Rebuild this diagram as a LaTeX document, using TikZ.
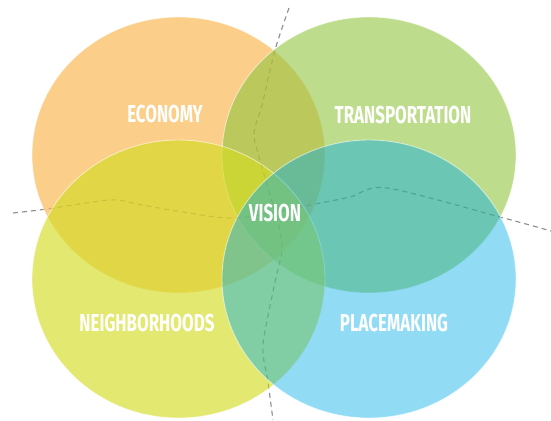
\documentclass[tikz,border=0pt]{standalone}
\usepackage{fontspec}
\newfontfamily\labelfont[FakeStretch=0.69]{Fira Sans}
\definecolor{econ}{RGB}{250,190,99}
\definecolor{trans}{RGB}{145,197,63}
\definecolor{neigh}{RGB}{212,220,35}
\definecolor{place}{RGB}{0,172,232}
\definecolor{guide}{RGB}{150,150,150}
\begin{document}
\begin{tikzpicture}[x=1pt,y=-1pt,
  petal/.style={draw=white,draw opacity=0.55,line width=0.9pt},
  guideline/.style={draw=guide,line width=1.1pt,dash pattern=on 5pt off 4pt},
  guidetop/.style={draw=black,draw opacity=0.06,line width=1.1pt,dash pattern=on 5pt off 4pt},
  caption/.style={text=white,font=\labelfont\bfseries\fontsize{24.5}{24.5}\selectfont,inner sep=0pt,anchor=center}]
\useasboundingbox (0,0) rectangle (551,420);
% guide lines running underneath the circles
\coordinate (vtop) at (289,8);
\coordinate (vbot) at (273,420);
\coordinate (hleft) at (13,213);
\coordinate (hright) at (551,231);
\draw[guideline] plot[smooth,tension=0.5] coordinates {(vtop) (275,50) (262,105) (254,133) (259,157) (268,188) (282,243) (275,282) (263,345) (268,382) (vbot)};
\draw[guideline] plot[smooth,tension=0.5] coordinates {(hleft) (47,209) (110,200) (137,204) (183,212) (237,218) (310,205) (350,197) (387,188) (500,217) (hright)};
% the four overlapping circles
\path[petal,fill=econ,fill opacity=0.75] (178.5,155) ellipse [x radius=146.5,y radius=138];
\path[petal,fill=trans,fill opacity=0.6] (369,155) ellipse [x radius=147,y radius=138];
\path[petal,fill=neigh,fill opacity=0.65] (178.5,279) ellipse [x radius=146.5,y radius=139];
\path[petal,fill=place,fill opacity=0.43] (369,279) ellipse [x radius=147,y radius=139];
% faint trace of the guide lines across the circles
\draw[guidetop] plot[smooth,tension=0.5] coordinates {(vtop) (275,50) (262,105) (254,133) (259,157) (268,188) (282,243) (275,282) (263,345) (268,382) (vbot)};
\draw[guidetop] plot[smooth,tension=0.5] coordinates {(hleft) (47,209) (110,200) (137,204) (183,212) (237,218) (310,205) (350,197) (387,188) (500,217) (hright)};
% labels
\node[caption] (economy) at (165,114.5) {ECONOMY};
\node[caption] (transport) at (403,115) {TRANSPORTATION};
\node[caption] (neighborhoods) at (147,323) {NEIGHBORHOODS};
\node[caption] (placemaking) at (394,323) {PLACEMAKING};
\node[caption] (vision) at (275,213.5) {VISION};
\end{tikzpicture}
\end{document}
